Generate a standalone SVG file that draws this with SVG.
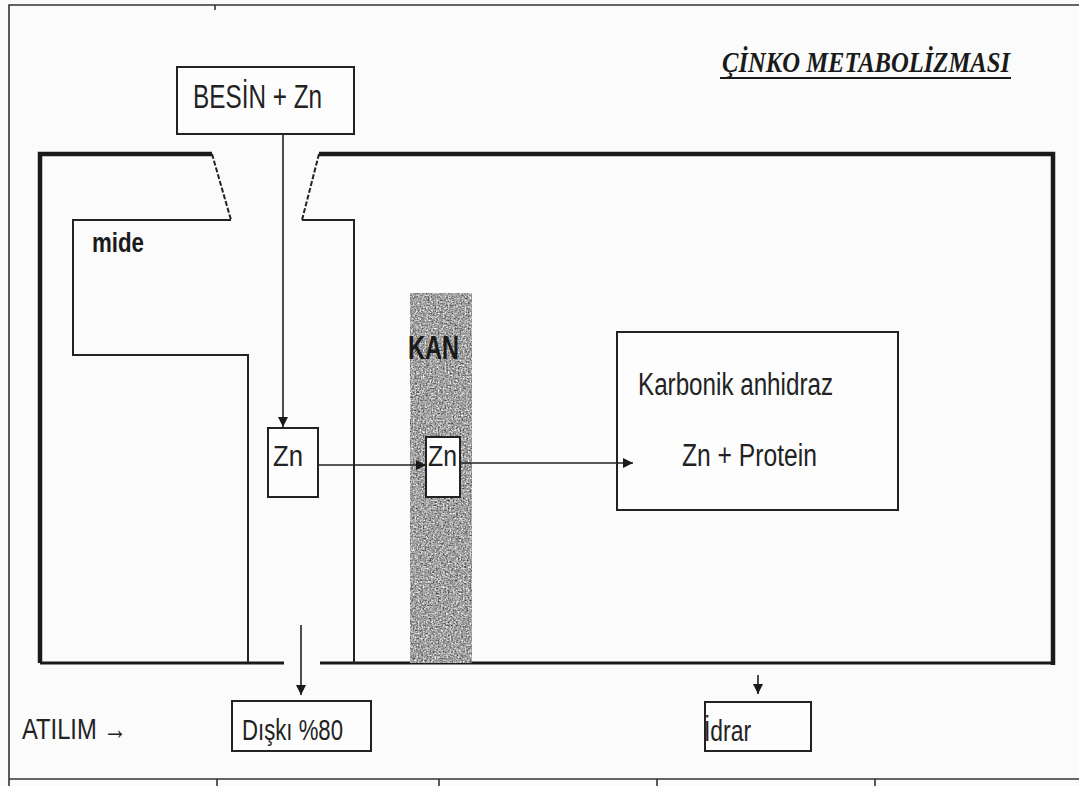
<svg xmlns="http://www.w3.org/2000/svg" width="1079" height="786" viewBox="0 0 1079 786">
  <defs>
    <style>
      .thick { fill: none; stroke: #1a1a1a; stroke-width: 4.5; stroke-linejoin: miter; }
      .mid { fill: none; stroke: #1a1a1a; stroke-width: 3; }
      .thin { fill: none; stroke: #222; stroke-width: 2; }
      .frame { fill: none; stroke: #333; stroke-width: 1.6; }
      .box { fill: #fdfdfd; stroke: #222; stroke-width: 2; }
      .conn { fill: none; stroke: #222; stroke-width: 1.6; }
      .lbl { font-family: "Liberation Sans", Arial, sans-serif; fill: #222; }
      .bold { font-family: "Liberation Sans", Arial, sans-serif; font-weight: bold; fill: #1a1a1a; }
      .title { font-family: "Liberation Serif", "Times New Roman", serif; font-weight: bold; font-style: italic; fill: #1a1a1a; }
    </style>
    <marker id="ah" viewBox="0 0 10 10" refX="10" refY="5" markerWidth="11" markerHeight="10" markerUnits="userSpaceOnUse" orient="auto">
      <path d="M0,0 L10,5 L0,10 z" fill="#1a1a1a"/>
    </marker>
    <filter id="grain" x="0" y="0" width="1" height="1" color-interpolation-filters="sRGB">
      <feTurbulence type="fractalNoise" baseFrequency="0.6" numOctaves="2" seed="3"/>
      <feColorMatrix type="matrix" values="0.6 0.6 0.6 0 -0.27  0.6 0.6 0.6 0 -0.27  0.6 0.6 0.6 0 -0.27  0 0 0 0 1"/>
    </filter>
  </defs>

  <rect width="1079" height="786" fill="#fbfbfb"/>

  <!-- outer page frame -->
  <g id="frame">
    <path class="frame" d="M9,786 L9,5 L1079,5"/>
    <path class="frame" d="M9,779 L1079,779"/>
    <path class="frame" d="M215,5 L215,10 M217,779 L217,786 M439,779 L439,786 M657,779 L657,786 M875,779 L875,786"/>
  </g>

  <!-- body outline -->
  <g id="body">
    <path class="thick" d="M212,154 L40,154 L40,663"/>
    <path class="mid" d="M40,663 L284,663"/>
    <path class="mid" d="M320,663 L1053,663"/>
    <path class="thick" d="M319,154 L1053,154 L1053,665"/>
    <path class="thin" d="M212,154 L231,220" stroke-dasharray="5,2"/>
    <path class="thin" d="M319,154 L302,220" stroke-dasharray="5,2"/>
  </g>

  <!-- stomach (mide) -->
  <g id="mide">
    <path class="thin" d="M231,220 L73,220 L73,355 L248,355 L248,663"/>
    <path class="thin" d="M302,220 L354,220 L354,663"/>
    <text class="bold" x="92" y="252" font-size="27" textLength="52" lengthAdjust="spacingAndGlyphs">mide</text>
  </g>

  <!-- blood band (KAN) -->
  <g id="kan">
    <rect x="410" y="293" width="62" height="370" filter="url(#grain)"/>
    <text class="bold" x="408" y="359" font-size="34" textLength="51" lengthAdjust="spacingAndGlyphs">KAN</text>
  </g>

  <!-- title -->
  <g id="title">
    <text class="title" x="722" y="72" font-size="30" textLength="288" lengthAdjust="spacingAndGlyphs">ÇİNKO METABOLİZMASI</text>
    <line x1="720" y1="78" x2="1011" y2="78" stroke="#1a1a1a" stroke-width="2.2"/>
  </g>

  <!-- nodes -->
  <g id="besin">
    <rect class="box" x="177" y="67" width="177" height="67"/>
    <text class="lbl" x="193" y="108" font-size="33" textLength="129" lengthAdjust="spacingAndGlyphs">BESİN + Zn</text>
  </g>

  <g id="zn-gut">
    <rect class="box" x="268" y="428" width="50" height="69"/>
    <text class="lbl" x="273" y="466" font-size="30" textLength="30" lengthAdjust="spacingAndGlyphs">Zn</text>
  </g>

  <g id="zn-kan">
    <rect class="box" x="426" y="437" width="34" height="60"/>
    <text class="lbl" x="428" y="466" font-size="30" textLength="29" lengthAdjust="spacingAndGlyphs">Zn</text>
  </g>

  <g id="karbonik">
    <rect class="box" x="617" y="332" width="281" height="178"/>
    <text class="lbl" x="638" y="395" font-size="31" textLength="195" lengthAdjust="spacingAndGlyphs">Karbonik anhidraz</text>
    <text class="lbl" x="682" y="466" font-size="31" textLength="135" lengthAdjust="spacingAndGlyphs">Zn + Protein</text>
  </g>

  <g id="atilim">
    <text class="lbl" x="22" y="739" font-size="30" textLength="105" lengthAdjust="spacingAndGlyphs">ATILIM →</text>
  </g>

  <g id="diski">
    <rect class="box" x="232" y="701" width="139" height="50"/>
    <text class="lbl" x="242" y="740" font-size="30" fill="#444" textLength="101" lengthAdjust="spacingAndGlyphs">Dışkı %80</text>
  </g>

  <g id="idrar">
    <rect class="box" x="705" y="702" width="106" height="49"/>
    <text class="lbl" x="704" y="741" font-size="30" textLength="47" lengthAdjust="spacingAndGlyphs">İdrar</text>
  </g>

  <!-- connectors -->
  <g id="connectors">
    <line class="conn" x1="283" y1="134" x2="283" y2="427" marker-end="url(#ah)"/>
    <line class="conn" x1="318" y1="465" x2="426" y2="465" marker-end="url(#ah)"/>
    <line class="conn" x1="460" y1="463" x2="633" y2="463" marker-end="url(#ah)"/>
    <line class="conn" x1="301" y1="625" x2="301" y2="695" marker-end="url(#ah)" stroke-width="2"/>
    <line class="conn" x1="758" y1="675" x2="758" y2="694" marker-end="url(#ah)"/>
  </g>
</svg>
